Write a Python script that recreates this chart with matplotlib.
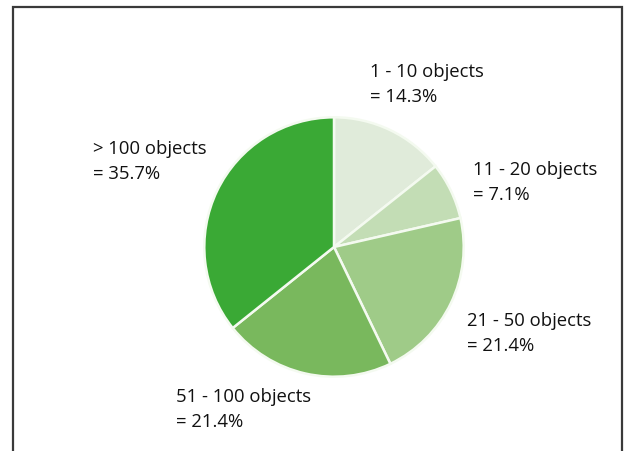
import matplotlib.pyplot as plt

# share of projects by number of objects
groups = ['1 - 10 objects', '11 - 20 objects', '21 - 50 objects',
          '51 - 100 objects', '> 100 objects']
shares = [14.3, 7.1, 21.4, 21.4, 35.7]
colours = ['#e0ebda', '#c3ddb5', '#9fcb88', '#79b85d', '#3aa935']

# label anchors in pixels (left x, baseline of first line)
label_pos = [(370, 77), (473, 175), (467, 326), (176, 402), (93, 154)]

W, H = 627, 452
fig = plt.figure(figsize=(W / 100, H / 100), dpi=100)
fig.patch.set_facecolor('white')

# frame round the chart, open at the bottom
frame = fig.add_axes([0, 0, 1, 1])
frame.set_xlim(0, W)
frame.set_ylim(H, 0)
frame.axis('off')
frame.plot([13, 13, 622, 622], [H + 5, 8, 8, H + 5], color='#3a3a3a', lw=1.6,
           solid_joinstyle='miter', clip_on=False)

cx, cy, r = 334, 248, 131
ax = fig.add_axes([(cx - r) / W, (H - cy - r) / H, 2 * r / W, 2 * r / H])
ax.pie(shares, colors=colours, startangle=90, counterclock=False,
       wedgeprops=dict(edgecolor='#f4faf0', linewidth=1.8))
ax.set_xlim(-1.01, 1.01)
ax.set_ylim(-1.01, 1.01)

for name, val, (x, y) in zip(groups, shares, label_pos):
    frame.text(x, y, name, fontsize=13.3, family='Open Sans', color='#111111',
               va='baseline', ha='left')
    frame.text(x, y + 25, '= %.1f%%' % val, fontsize=13.3, family='Open Sans',
               color='#111111', va='baseline', ha='left')

fig.savefig('out.png', dpi=100)
